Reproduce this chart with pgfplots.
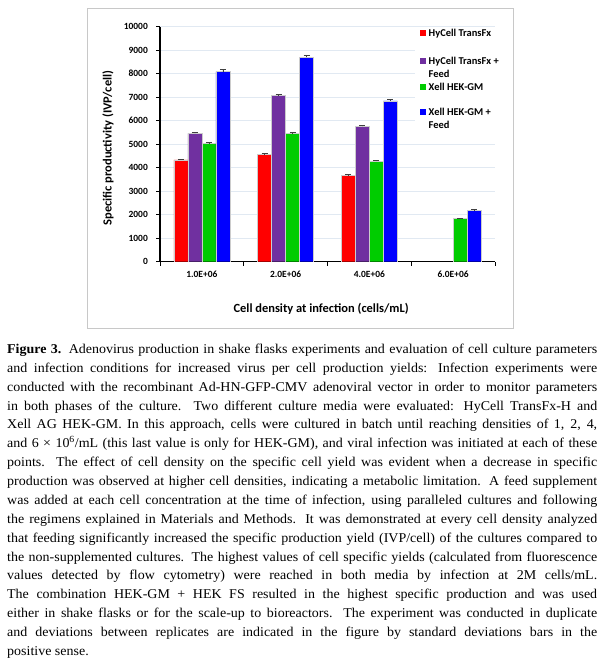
\documentclass[border=0pt]{standalone}
\usepackage{pgfplots}
\pgfplotsset{compat=1.18}
\usepackage{fontspec}
\newfontfamily\calibri{Carlito}
\newfontfamily\capfont[FakeStretch=1.04]{Liberation Serif}

\definecolor{cRed}{RGB}{255,0,0}
\definecolor{cPurple}{RGB}{112,48,160}
\definecolor{cGreen}{RGB}{0,204,0}
\definecolor{cBlue}{RGB}{0,0,255}
\definecolor{gridc}{RGB}{225,233,242}
\definecolor{framec}{RGB}{200,200,200}

% specific productivity (IVP/cell), x = cell density group
\pgfplotstableread{
x y e
0 4330 30
1 4570 25
2 3680 30
}\hyRed
\pgfplotstableread{
x y e
0 5460 50
1 7070 60
2 5760 40
}\hyFeed
\pgfplotstableread{
x y e
0 5040 30
1 5450 40
2 4280 30
3 1830 20
}\xeGM
\pgfplotstableread{
x y e
0 8090 80
1 8700 100
2 6840 80
3 2180 30
}\xeFeed

\begin{document}
\begin{tikzpicture}
\useasboundingbox (0,0) rectangle (600bp,-664bp);
% chart frame
\draw[framec, line width=0.8bp] (87bp,-8bp) rectangle (513bp,-328bp);

\begin{axis}[
    at={(160bp,-261.7bp)}, anchor=south west,
    scale only axis, width=335bp, height=235bp,
    xmin=-0.5, xmax=3.5, ymin=0, ymax=10000,
    ybar=0pt, bar width=14bp,
    axis x line*=bottom, axis y line*=left,
    axis line style={line width=1.4bp, black},
    xtick={-0.5,0.5,1.5,2.5,3.5},
    x tick label as interval,
    xticklabels={1.0E+06,2.0E+06,4.0E+06,6.0E+06},
    ytick={0,1000,...,10000},
    scaled y ticks=false,
    /pgf/number format/1000 sep={},
    /pgf/number format/assume math mode=true,
    tick align=outside, major tick length=4bp,
    tick style={line width=1bp, black},
    ymajorgrids, major grid style={gridc, line width=0.8bp},
    tick label style={font=\calibri\bfseries\fontsize{9.5}{11}\selectfont},
    yticklabel style={anchor=east, inner sep=0pt, xshift=-8bp},
    xticklabel style={anchor=center, inner sep=0pt, yshift=-9bp},
    xlabel={Cell density at infection (cells/mL)},
    ylabel={Specific productivity (IVP/cell)},
    label style={font=\calibri\bfseries\fontsize{12.5}{14}\selectfont},
    xlabel style={at={(axis description cs:0.481,-0.201)}, anchor=center},
    ylabel style={at={(axis description cs:-0.155,0.484)}, anchor=center},
    legend image code/.code={\fill[#1,draw=none] (0bp,0.6bp) rectangle (5.5bp,6.1bp);},
    legend style={at={(axis description cs:0.7612,0.9974)}, anchor=north west,
        draw=none, fill=white, inner xsep=5bp, inner ysep=0bp,
        row sep=0bp, column sep=3bp,
        cells={anchor=base west},
        nodes={inner sep=0pt, text depth={}},
        font=\calibri\bfseries\fontsize{10.5}{13}\selectfont},
    error bars/y dir=plus, error bars/y explicit,
    error bars/error bar style={line width=0.7bp, black!75},
    error bars/error mark options={rotate=90, mark size=3bp, line width=0.7bp, black!75},
]
\addplot[fill=cRed, draw=black!20, line width=0.4bp] table[x=x, y=y, y error=e] {\hyRed};
\addlegendentry{\begin{tabular}[t]{@{}l@{}}HyCell TransFx\rule[-18.9bp]{0pt}{1pt}\end{tabular}}
\addplot[fill=cPurple, draw=black!20, line width=0.4bp] table[x=x, y=y, y error=e] {\hyFeed};
\addlegendentry{\begin{tabular}[t]{@{}l@{}}HyCell TransFx +\\Feed\end{tabular}}
\addplot[fill=cGreen, draw=black!20, line width=0.4bp] table[x=x, y=y, y error=e] {\xeGM};
\addlegendentry{\begin{tabular}[t]{@{}l@{}}Xell HEK-GM\rule[-15.9bp]{0pt}{1pt}\end{tabular}}
\addplot[fill=cBlue, draw=black!20, line width=0.4bp] table[x=x, y=y, y error=e] {\xeFeed};
\addlegendentry{\begin{tabular}[t]{@{}l@{}}Xell HEK-GM +\\Feed\end{tabular}}
\end{axis}

\node[anchor=north west, inner sep=0pt, text width=590bp, align=justify,
      font=\capfont\fontsize{13.5}{18.95}\selectfont] at (7bp,-340bp) {\strut
\textbf{Figure 3.} Adenovirus production in shake flasks experiments and evaluation of cell culture parameters\linebreak
and infection conditions for increased virus per cell production yields: Infection experiments were\linebreak
conducted with the recombinant Ad-HN-GFP-CMV adenoviral vector in order to monitor parameters\linebreak
in both phases of the culture. Two different culture media were evaluated: HyCell TransFx-H and\linebreak
Xell AG HEK-GM. In this approach, cells were cultured in batch until reaching densities of 1, 2, 4,\linebreak
and 6 × 10\textsuperscript{6}/mL (this last value is only for HEK-GM), and viral infection was initiated at each of these\linebreak
points. The effect of cell density on the specific cell yield was evident when a decrease in specific\linebreak
production was observed at higher cell densities, indicating a metabolic limitation. A feed supplement\linebreak
was added at each cell concentration at the time of infection, using paralleled cultures and following\linebreak
the regimens explained in Materials and Methods. It was demonstrated at every cell density analyzed\linebreak
that feeding significantly increased the specific production yield (IVP/cell) of the cultures compared to\linebreak
the non-supplemented cultures. The highest values of cell specific yields (calculated from fluorescence\linebreak
values detected by flow cytometry) were reached in both media by infection at 2M cells/mL.\linebreak
The combination HEK-GM + HEK FS resulted in the highest specific production and was used\linebreak
either in shake flasks or for the scale-up to bioreactors. The experiment was conducted in duplicate\linebreak
and deviations between replicates are indicated in the figure by standard deviations bars in the\linebreak
positive sense.};
\end{tikzpicture}
\end{document}
